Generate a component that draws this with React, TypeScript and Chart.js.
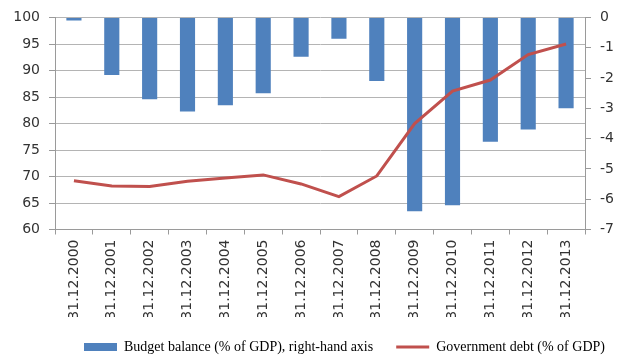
import React, { useEffect, useRef } from "react";
import { Chart, registerables } from "chart.js";

Chart.register(...registerables);

const categories = [
  "31.12.2000", "31.12.2001", "31.12.2002", "31.12.2003", "31.12.2004",
  "31.12.2005", "31.12.2006", "31.12.2007", "31.12.2008", "31.12.2009",
  "31.12.2010", "31.12.2011", "31.12.2012", "31.12.2013",
];

const budgetBalance = [-0.1, -1.9, -2.7, -3.1, -2.9, -2.5, -1.3, -0.7, -2.1, -6.4, -6.2, -4.1, -3.7, -3.0];

const governmentDebt = [69.2, 68.2, 68.1, 69.1, 69.7, 70.3, 68.6, 66.2, 70.1, 80.0, 86.1, 88.2, 93.0, 95.0];

const budgetLabel = "Budget balance (% of GDP), right-hand axis";
const debtLabel = "Government debt (% of GDP)";

const BAR_COLOR = "#4F81BD";
const LINE_COLOR = "#C0504D";
const GRID_COLOR = "#b4b4b4";
const AXIS_COLOR = "#9a9a9a";
const TEXT_COLOR = "#333333";

const tickFont = { family: "'DejaVu Sans'", size: 14 };

const legendPlacement = {
  id: "legendPlacement",
  afterLayout(chart: any) {
    const lg = chart.legend;
    if (lg) {
      lg.left = 61;
      lg.right = 800;
      lg.width = lg.right - lg.left;
    }
  },
};

export default function App() {
  const ref = useRef<HTMLCanvasElement | null>(null);

  useEffect(() => {
    if (!ref.current) return;
    const chart = new Chart(ref.current, {
      type: "bar",
      data: {
        labels: categories,
        datasets: [
          {
            type: "bar",
            label: budgetLabel,
            data: budgetBalance,
            backgroundColor: BAR_COLOR,
            borderWidth: 0,
            yAxisID: "yRight",
            order: 1,
            barPercentage: 0.4,
            categoryPercentage: 1,
            pointStyle: "rect",
          } as any,
          {
            type: "line",
            label: debtLabel,
            data: governmentDebt,
            borderColor: LINE_COLOR,
            backgroundColor: LINE_COLOR,
            borderWidth: 3,
            pointRadius: 0,
            tension: 0,
            fill: false,
            yAxisID: "yLeft",
            order: 0,
            pointStyle: "line",
          } as any,
        ],
      },
      options: {
        responsive: false,
        animation: false,
        layout: { padding: { top: 17.5, left: 0, right: 0, bottom: 0 } },
        plugins: {
          tooltip: { enabled: false },
          legend: {
            position: "bottom",
            align: "start",
            maxHeight: 39,
            labels: {
              usePointStyle: true,
              pointStyleWidth: 33,
              boxHeight: 8,
              padding: 23,
              color: "#000000",
              font: { family: "'Liberation Serif'", size: 14 },
              sort: (a: any, b: any) => a.datasetIndex - b.datasetIndex,
            },
          } as any,
        },
        scales: {
          x: {
            type: "category",
            offset: true,
            grid: {
              offset: true,
              drawOnChartArea: false,
              drawTicks: true,
              tickLength: 5,
              color: AXIS_COLOR,
            },
            border: { display: true, color: AXIS_COLOR },
            ticks: {
              minRotation: 90,
              maxRotation: 90,
              autoSkip: false,
              padding: 5,
              color: TEXT_COLOR,
              font: tickFont,
            },
            afterFit: (s: any) => {
              s.height = 87.5;
            },
          },
          yLeft: {
            type: "linear",
            position: "left",
            min: 60,
            max: 100,
            grid: {
              color: GRID_COLOR,
              drawTicks: true,
              tickLength: 6,
              tickColor: AXIS_COLOR,
            },
            border: { display: true, color: AXIS_COLOR },
            ticks: {
              stepSize: 5,
              padding: 9,
              color: TEXT_COLOR,
              font: tickFont,
            },
            afterFit: (s: any) => {
              s.width = 55;
            },
          },
          yRight: {
            type: "linear",
            position: "right",
            min: -7,
            max: 0,
            grid: {
              drawOnChartArea: false,
              drawTicks: true,
              tickLength: 6,
              color: AXIS_COLOR,
            },
            border: { display: true, color: AXIS_COLOR },
            ticks: {
              stepSize: 1,
              padding: 9,
              color: TEXT_COLOR,
              font: tickFont,
            },
            afterFit: (s: any) => {
              s.width = 38;
            },
          },
        },
      } as any,
      plugins: [legendPlacement],
    });
    return () => chart.destroy();
  }, []);

  return (
    <div style={{ position: "absolute", left: 0, top: 0, width: 623, height: 356, background: "#ffffff" }}>
      <canvas ref={ref} width={623} height={356} style={{ display: "block" }} />
    </div>
  );
}
